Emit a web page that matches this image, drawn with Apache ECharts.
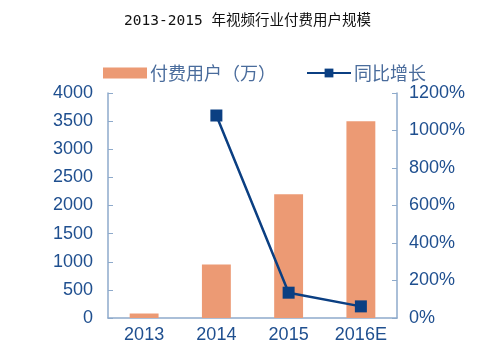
<!DOCTYPE html>
<html><head><meta charset="utf-8">
<script src="https://cdn.jsdelivr.net/npm/echarts@6/dist/echarts.min.js"></script>
<style>html,body{margin:0;padding:0;background:#fff}#c{width:495px;height:363px}</style>
</head><body><div id="c"></div>
<script>
const categories = ['2013', '2014', '2015', '2016E'];
const paidUsers = [80, 950, 2200, 3500];
const yoyGrowth = [null, 1080, 135, 62];
const leftTicks = [0, 4000, 500];
const rightTicks = [0, 1200, 200];

const axisColor = '#8eaacb';
const labelColor = '#1f4f8f';
const chart = echarts.init(document.getElementById('c'));
chart.setOption({
  animation: false,
  title: {
    text: '2013-2015 年视频行业付费用户规模',
    left: 'center', top: 9,
    textStyle: { fontSize: 14.5, fontWeight: 'normal', color: '#111', fontFamily: '"DejaVu Sans Mono", "Noto Sans CJK SC"' }
  },
  legend: {
    top: 59, left: 98,
    itemGap: 30, itemWidth: 44, itemHeight: 11,
    textStyle: { fontSize: 18, color: '#4a6c9c', fontFamily: '"Noto Sans CJK SC"', padding: [0, 0, 0, -2] },
    data: [
      { name: '付费用户（万）', icon: 'rect' },
      { name: '同比增长' }
    ]
  },
  grid: { left: 108, right: 98, top: 93, bottom: 45 },
  xAxis: {
    type: 'category', data: categories,
    axisLine: { lineStyle: { color: axisColor, width: 1.5 } },
    axisTick: { inside: true, length: 5, lineStyle: { color: axisColor } },
    axisLabel: { fontSize: 18, color: labelColor, fontFamily: 'Arial, "Liberation Sans"', margin: 8 }
  },
  yAxis: [
    {
      type: 'value', min: leftTicks[0], max: leftTicks[1], interval: leftTicks[2],
      axisLine: { show: true, lineStyle: { color: axisColor, width: 1.5 } },
      axisTick: { show: true, inside: true, length: 5, lineStyle: { color: axisColor } },
      splitLine: { show: false },
      axisLabel: { fontSize: 18, color: labelColor, fontFamily: 'Arial, "Liberation Sans"', margin: 15, formatter: v => String(v) }
    },
    {
      type: 'value', min: rightTicks[0], max: rightTicks[1], interval: rightTicks[2],
      axisLine: { show: true, lineStyle: { color: axisColor, width: 1.5 } },
      axisTick: { show: true, inside: true, length: 5, lineStyle: { color: axisColor } },
      splitLine: { show: false },
      axisLabel: { fontSize: 18, color: labelColor, fontFamily: 'Arial, "Liberation Sans"', margin: 12, formatter: v => v + '%' }
    }
  ],
  series: [
    {
      name: '付费用户（万）', type: 'bar', data: paidUsers, barWidth: '40%',
      itemStyle: { color: '#ec9a74' }
    },
    {
      name: '同比增长', type: 'line', yAxisIndex: 1, data: yoyGrowth,
      symbol: 'rect', symbolSize: 12,
      lineStyle: { color: '#0b3f82', width: 2.5 },
      itemStyle: { color: '#0b3f82' }
    }
  ]
});
</script></body></html>
